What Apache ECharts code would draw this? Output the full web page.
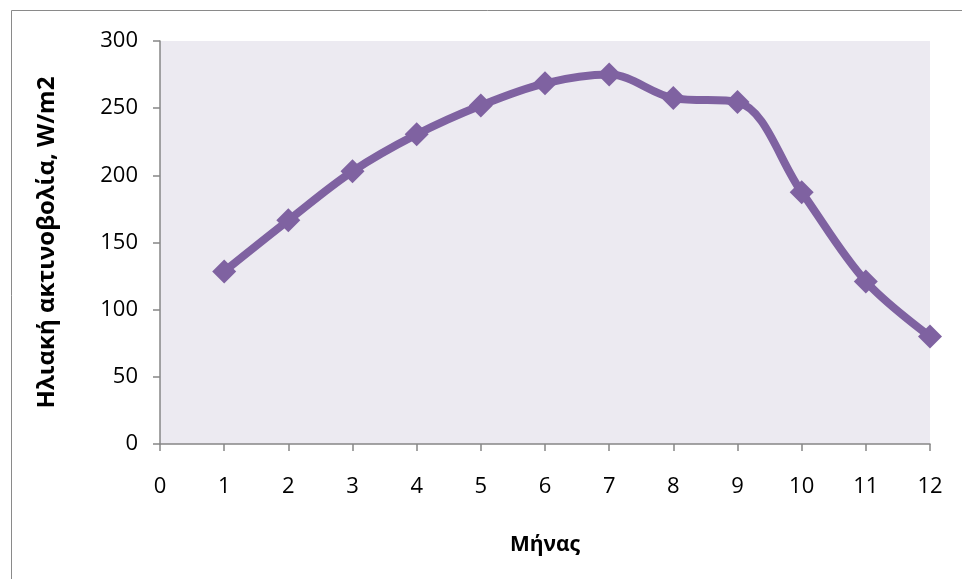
<!DOCTYPE html>
<html>
<head>
<meta charset="utf-8">
<script src="https://cdn.jsdelivr.net/npm/echarts@6/dist/echarts.min.js"></script>
<style>
html,body{margin:0;padding:0;background:#fff;}
#c{width:962px;height:579px;}
</style>
</head>
<body>
<div id="c"></div>
<script>
const months = [1,2,3,4,5,6,7,8,9,10,11,12];
const radiation = [128.5,166.5,203,230.5,252,268.5,275,257.5,254.5,187.5,121,80];
const xTitle = 'Μήνας';
const yTitle = 'Ηλιακή ακτινοβολία, W/m2';

const chart = echarts.init(document.getElementById('c'), null, {renderer:'canvas'});
const font = "'Open Sans', 'Liberation Sans', sans-serif";
chart.setOption({
  animation:false,
  backgroundColor:'#fff',
  graphic:[{type:'rect', shape:{x:11.5,y:10.5,width:980,height:600}, style:{fill:'none',stroke:'#8a8a8a',lineWidth:1}, silent:true}],
  grid:{left:160,top:41,right:32,bottom:135,show:true,backgroundColor:'#ECEAF1',borderWidth:0},
  xAxis:{
    type:'value',min:0,max:12,interval:1,
    name:xTitle,nameLocation:'middle',nameGap:91,
    nameTextStyle:{fontFamily:font,fontSize:21,fontWeight:'bold',color:'#000'},
    axisLine:{show:true,onZero:false,lineStyle:{color:'#868686',width:1.5}},
    axisTick:{show:true,inside:false,length:7,lineStyle:{color:'#868686',width:1.5}},
    axisLabel:{fontFamily:font,fontSize:22,color:'#000',margin:32},
    splitLine:{show:false}
  },
  yAxis:{
    type:'value',min:0,max:300,interval:50,
    name:yTitle,nameLocation:'middle',nameGap:101,
    nameTextStyle:{fontFamily:font,fontSize:24,fontWeight:'bold',color:'#000'},
    axisLine:{show:true,lineStyle:{color:'#868686',width:1.5}},
    axisTick:{show:true,inside:false,length:7,lineStyle:{color:'#868686',width:1.5}},
    axisLabel:{fontFamily:font,fontSize:22,color:'#000',margin:22},
    splitLine:{show:false}
  },
  series:[{
    type:'line',
    data:months.map((m,i)=>[m,radiation[i]]),
    smooth:0.35,
    symbol:'diamond',symbolSize:24,
    lineStyle:{color:'#7F62A1',width:8},
    itemStyle:{color:'#7F62A1'},
    clip:false
  }]
});
</script>
</body>
</html>
